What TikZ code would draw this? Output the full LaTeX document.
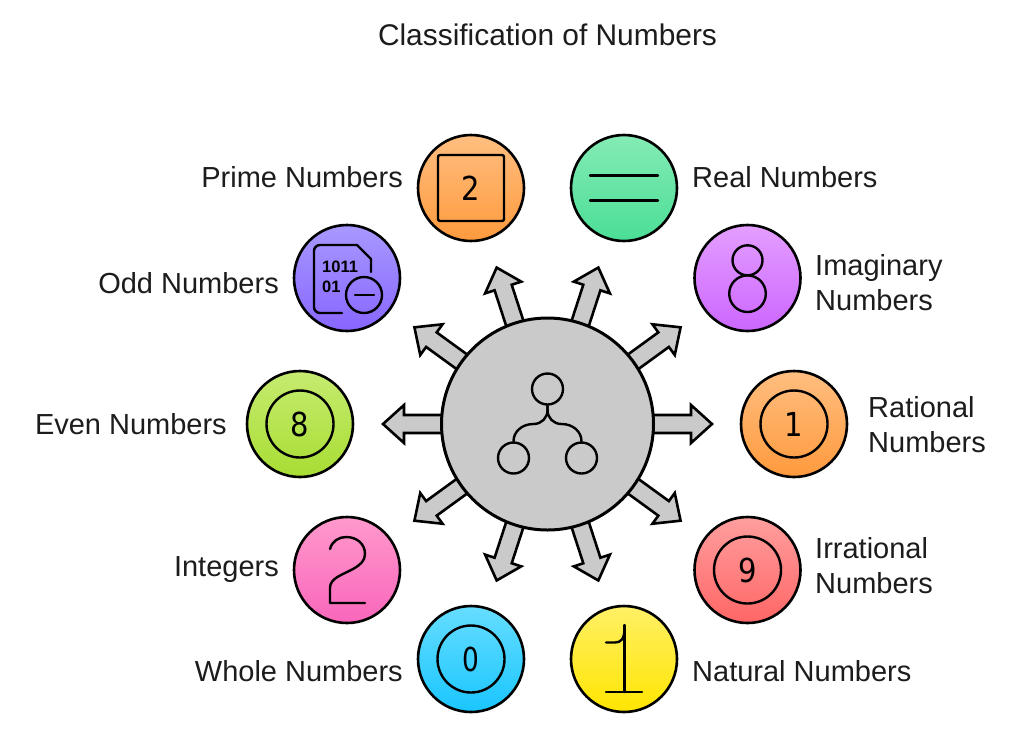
\documentclass[tikz,border=0pt]{standalone}
\usepackage{fontspec}
\setmainfont{Liberation Sans}
\newfontfamily\digitfont{DejaVu Sans}
\usetikzlibrary{calc,backgrounds}
\definecolor{hubgray}{HTML}{CACACA}
\definecolor{inktext}{HTML}{1C1C1C}
\tikzset{
    ball/.style={circle,draw=black,line width=2.6pt,minimum size=106pt,inner sep=0pt},
    ringicon/.style={circle,draw=black,line width=2.4pt,minimum size=67pt,inner sep=0pt,font=\digitfont\fontsize{33}{33}\selectfont},
    iconline/.style={draw=black,line width=2.4pt,line cap=round,line join=round},
    numlabel/.style={inner sep=0pt,align=left,text=inktext,font=\fontsize{29}{35}\selectfont},
    blockarrow/.style={draw=black,fill=hubgray,line width=2.6pt,line join=miter,to path={
        ($(\tikztostart)!9pt!90:(\tikztotarget)$)
        -- ($($(\tikztotarget)!21pt!(\tikztostart)$)!9pt!90:(\tikztotarget)$)
        -- ($($(\tikztotarget)!21pt!(\tikztostart)$)!19pt!90:(\tikztotarget)$)
        -- (\tikztotarget)
        -- ($($(\tikztotarget)!21pt!(\tikztostart)$)!19pt!-90:(\tikztotarget)$)
        -- ($($(\tikztotarget)!21pt!(\tikztostart)$)!9pt!-90:(\tikztotarget)$)
        -- ($(\tikztostart)!9pt!-90:(\tikztotarget)$) -- cycle}}
}
\begin{document}
\begin{tikzpicture}[x=1pt,y=-1pt]
    \useasboundingbox (0,0) rectangle (1024,732);
    \node[numlabel,anchor=base,font=\fontsize{29.9}{35}\selectfont] (title) at (547.5,45) {Classification of Numbers};

    \node[ball,minimum size=212pt,fill=hubgray,line width=3pt] (hub) at (547.5,424) {};
    \begin{pgfonlayer}{background}
        \foreach \ang in {0,36,...,324} {
            \coordinate (tip\ang) at ($(hub)+(\ang:164.5)$);
            \draw[blockarrow] (hub) to (tip\ang);
        }
    \end{pgfonlayer}
    \begin{scope}[shift={(hub.center)}]
        \node[circle,iconline,minimum size=31pt,inner sep=0pt] (treetop) at (0,-35) {};
        \node[circle,iconline,minimum size=31pt,inner sep=0pt] (treeleft) at (-34,34) {};
        \node[circle,iconline,minimum size=31pt,inner sep=0pt] (treeright) at (34,34) {};
        \draw[iconline] (treetop) -- (0,-14) .. controls (0,-6) and (-6,0) .. (-14,0) .. controls (-26,0) and (-34,8) .. (treeleft);
        \draw[iconline] (treetop) -- (0,-14) .. controls (0,-6) and (6,0) .. (14,0) .. controls (26,0) and (34,8) .. (treeright);
    \end{scope}

    \node[ball,top color={rgb,255:red,255;green,190;blue,128},bottom color={rgb,255:red,255;green,154;blue,61}] (prime) at (471,188) {};
    \node[ball,top color={rgb,255:red,133;green,235;blue,181},bottom color={rgb,255:red,74;green,222;blue,150}] (real) at (624,188) {};
    \node[ball,top color={rgb,255:red,228;green,158;blue,255},bottom color={rgb,255:red,204;green,102;blue,255}] (imaginary) at (747.5,278) {};
    \node[ball,top color={rgb,255:red,255;green,190;blue,128},bottom color={rgb,255:red,255;green,154;blue,61}] (rational) at (794,424) {};
    \node[ball,top color={rgb,255:red,255;green,158;blue,158},bottom color={rgb,255:red,255;green,102;blue,102}] (irrational) at (747.5,570) {};
    \node[ball,top color={rgb,255:red,255;green,240;blue,102},bottom color={rgb,255:red,255;green,229;blue,0}] (natural) at (624,659) {};
    \node[ball,top color={rgb,255:red,102;green,221;blue,255},bottom color={rgb,255:red,26;green,198;blue,255}] (whole) at (471,659) {};
    \node[ball,top color={rgb,255:red,255;green,153;blue,204},bottom color={rgb,255:red,249;green,102;blue,187}] (integers) at (347,570) {};
    \node[ball,top color={rgb,255:red,198;green,235;blue,112},bottom color={rgb,255:red,168;green,221;blue,51}] (even) at (300,424) {};
    \node[ball,top color={rgb,255:red,168;green,153;blue,255},bottom color={rgb,255:red,136;green,102;blue,255}] (odd) at (347,278) {};

    \node[ringicon,rectangle,rounded corners=2pt,minimum size=66pt] (primedigit) at (prime) {\scalebox{.88}[1]{2}};
    \node[ringicon] (rationaldigit) at (rational) {\scalebox{.88}[1]{1}};
    \node[ringicon] (irrationaldigit) at (irrational) {\scalebox{.88}[1]{9}};
    \node[ringicon] (wholedigit) at (whole) {\scalebox{.8}[1]{0}};
    \node[ringicon] (evendigit) at (even) {\scalebox{.88}[1]{8}};

    \begin{scope}[shift={(real.center)}]
        \draw[iconline] (-34,-12.5) -- (34,-12.5);
        \draw[iconline] (-34,12.5) -- (34,12.5);
    \end{scope}
    \begin{scope}[shift={(imaginary.center)}]
        \draw[iconline] (0,-17.7) circle (15);
        \draw[iconline] (0,15.7) circle (18.3);
    \end{scope}
    \begin{scope}[shift={(integers.center)}]
        \draw[iconline] (-17,-21) .. controls (-15,-29) and (-8,-33) .. (-1,-33) .. controls (10,-33) and (18,-26) .. (18,-16)
            .. controls (18,-9) and (13,-5) .. (6,-1) .. controls (-5,5) and (-17,8) .. (-17,18) -- (-17,33) -- (18,33);
    \end{scope}
    \begin{scope}[shift={(natural.center)}]
        \draw[iconline] (0.5,-34) -- (0.5,33);
        \draw[iconline] (-18,33) -- (18,33);
        \draw[iconline] (-18,-16.5) -- (-9,-16.5) .. controls (-3,-16.5) and (0.5,-20) .. (0.5,-31);
    \end{scope}
    \begin{scope}[shift={(odd.center)}]
        \draw[iconline,rounded corners=6pt] (-5,35) -- (-33,35) -- (-33,-33) -- (10,-33);
        \draw[iconline] (10,-33) -- (24,-19) -- (24,-6);
        \draw[iconline] (17,17) circle (18);
        \draw[iconline] (8,17) -- (27,17);
        \node[font=\bfseries\fontsize{16.5}{16.5}\selectfont,inner sep=0pt,anchor=base west] (bitsupper) at (-25,-6) {1011};
        \node[font=\bfseries\fontsize{16.5}{16.5}\selectfont,inner sep=0pt,anchor=base west] (bitslower) at (-25,14) {01};
    \end{scope}

    \node[numlabel,anchor=base east] (primelabel) at (403,187) {Prime Numbers};
    \node[numlabel,anchor=base west] (reallabel) at (692,187) {Real Numbers};
    \node[numlabel,anchor=base west] (imaginarylabel) at (815,310) {Imaginary\\Numbers};
    \node[numlabel,anchor=base west] (rationallabel) at (868,452) {Rational\\Numbers};
    \node[numlabel,anchor=base west] (irrationallabel) at (815,593) {Irrational\\Numbers};
    \node[numlabel,anchor=base west] (naturallabel) at (692,681) {Natural Numbers};
    \node[numlabel,anchor=base east] (wholelabel) at (403,681) {Whole Numbers};
    \node[numlabel,anchor=base east] (integerslabel) at (279,576) {Integers};
    \node[numlabel,anchor=base east] (evenlabel) at (227,434) {Even Numbers};
    \node[numlabel,anchor=base east] (oddlabel) at (279,293) {Odd Numbers};
\end{tikzpicture}
\end{document}
